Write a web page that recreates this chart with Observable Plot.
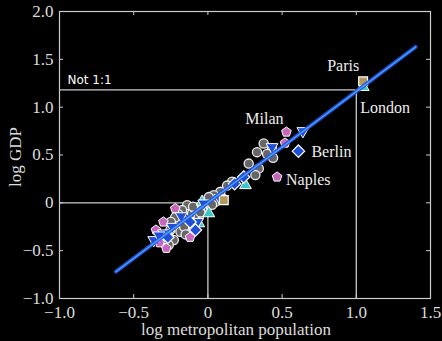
<!DOCTYPE html>
<html><head><meta charset="utf-8">
<script src="https://cdn.jsdelivr.net/npm/d3@7"></script>
<script src="https://cdn.jsdelivr.net/npm/@observablehq/plot@0.6"></script>
<style>html,body{margin:0;padding:0;background:#000;}</style>
</head><body><div id="chart"></div>
<script>
// grey circles (other cities)
const circleX = [0.376,0.432,0.331,0.399,0.439,0.275,0.343,0.32,0.163,0.129,0.084,0.039,0.006,0.05,0.028,
  -0.14,-0.174,-0.107,-0.174,-0.118,-0.062,-0.208,-0.253,-0.185,-0.129,-0.264,-0.23,-0.264,-0.039,-0.09,-0.2,
  -0.3,-0.16,-0.1,-0.22,-0.05,-0.15,-0.25];
const circleY = [0.62,0.566,0.53,0.51,0.47,0.41,0.36,0.29,0.22,0.18,0.115,0.08,0.06,0.01,-0.02,
  -0.024,-0.076,-0.11,-0.163,-0.198,-0.146,-0.215,-0.284,-0.302,-0.319,-0.354,-0.389,-0.44,-0.058,-0.06,-0.12,
  -0.38,-0.25,-0.04,-0.15,-0.1,-0.33,-0.2];
// pink pentagons
const pentX = [0.529,0.52,0.466,-0.35,-0.28,-0.325,-0.22,-0.3,-0.12];
const pentY = [0.74,0.625,0.27,-0.284,-0.475,-0.417,-0.06,-0.2,-0.36];
// blue diamonds
const diamX = [0.61,0.241,-0.084,0.18,-0.12,-0.27];
const diamY = [0.54,0.27,-0.284,0.2,-0.2,-0.36];
// blue downward triangles
const triDX = [0.64,0.432,-0.365,-0.298,-0.028,-0.18,-0.24,0.08,-0.33,-0.07];
const triDY = [0.75,0.583,-0.389,-0.319,-0.006,-0.14,-0.25,0.05,-0.34,-0.2];
// cyan upward triangles
const triUX = [1.046,0.253,-0.039,0.006,-0.062];
const triUY = [1.21,0.184,0.01,-0.11,-0.215];
// tan squares
const sqX = [1.046,0.107];
const sqY = [1.27,0.028];
// named cities
const cityNames = ["Paris","London","Milan","Berlin","Naples"];
const cityX = [1.046,1.046,0.529,0.61,0.466];
const cityY = [1.27,1.21,0.74,0.54,0.27];
// fitted line end points
const fitX = [-0.62,1.4];
const fitY = [-0.72,1.63];
// guide lines
const guideLevel = [0, 1.18];
const guideAt = [0, 1.0];
const xTicks = [-1.0,-0.5,0,0.5,1.0,1.5];
const yTicks = [-1.0,-0.5,0,0.5,1.0,1.5,2.0];

const pts = (xs, ys) => xs.map((x,i)=>({x, y: ys[i]}));
const fit = pts(fitX, fitY);
const cities = cityNames.map((n,i)=>({name:n, x:cityX[i], y:cityY[i]}));
const guides = guideLevel.map((g,i)=>({y:g, x:guideAt[i]}));

const pentagon = {draw(ctx, size){
  const r = Math.sqrt(size / (2.5*Math.sin(2*Math.PI/5)));
  for (let i=0;i<5;i++){
    const a = -Math.PI/2 + i*2*Math.PI/5;
    const px = r*Math.cos(a), py = r*Math.sin(a);
    if (i===0) ctx.moveTo(px,py); else ctx.lineTo(px,py);
  }
  ctx.closePath();
}};

const fmt = d => d === 0 ? "0" : d3.format(".1f")(d);
const serif = "Liberation Serif, Times New Roman, serif";
const labelOffsets = {Paris:{dx:-20,dy:-15,anchor:"middle"}, London:{dx:-3,dy:21,anchor:"start"},
  Milan:{dx:-22,dy:-13,anchor:"middle"}, Berlin:{dx:13,dy:1,anchor:"start"}, Naples:{dx:9,dy:3,anchor:"start"}};

const chart = Plot.plot({
  width: 442, height: 341,
  marginLeft: 59, marginRight: 12, marginTop: 11, marginBottom: 43,
  style: {background:"#000", color:"#ddd", fontFamily: serif, fontSize:"16px"},
  x: {domain:[-1,1.5], ticks: xTicks, tickFormat: fmt, label: null},
  y: {domain:[-1,2], ticks: yTicks, tickFormat: fmt, label: null},
  marks: [
    Plot.frame({stroke:"#ccc", strokeWidth:1.2}),
    Plot.axisX({ticks:xTicks, tickFormat: fmt, tickSize:0, tickPadding:7, fontSize:17, fill:"#ddd"}),
    Plot.axisY({ticks:yTicks, tickFormat: fmt, tickSize:0, tickPadding:6, fontSize:17, fill:"#ddd"}),
    Plot.tickX(xTicks, {x:d=>d, stroke:"#ccc", insetTop: 283}),
    Plot.tickX(xTicks, {x:d=>d, stroke:"#ccc", insetBottom: 283}),
    Plot.tickY(yTicks, {y:d=>d, stroke:"#ccc", insetRight: 367}),
    Plot.tickY(yTicks, {y:d=>d, stroke:"#ccc", insetLeft: 367}),
    Plot.ruleY(guides, {y:"y", x1:-1, x2:"x", stroke:"#ccc", strokeWidth:1.3}),
    Plot.ruleX(guides, {x:"x", y1:-1, y2:"y", stroke:"#ccc", strokeWidth:1.3}),
    Plot.text(["Not 1:1"], {x:-1, y:guideLevel[1], text:d=>d, textAnchor:"start", dx:8, dy:-10,
      fill:"#fff", fontFamily:"DejaVu Sans", fontSize:12}),
    Plot.dot(pts(circleX,circleY), {x:"x", y:"y", r:4.6, fill:"#666", stroke:"#eee", strokeWidth:1.3}),
    Plot.dot(pts(pentX,pentY), {x:"x", y:"y", r:4.4, symbol:pentagon, fill:"#c865bd", stroke:"#fff", strokeWidth:1}),
    Plot.dot(pts(triUX,triUY), {x:"x", y:"y", r:4.4, symbol:"triangle", fill:"#3cc8c8", stroke:"#fff", strokeWidth:1}),
    Plot.dot(pts(triDX,triDY), {x:"x", y:"y", r:4.4, symbol:"triangle", rotate:180, fill:"#1f4fd8", stroke:"#fff", strokeWidth:1}),
    Plot.dot(pts(diamX,diamY), {x:"x", y:"y", r:5.6, symbol:"diamond2", fill:"#1f4fd8", stroke:"#fff", strokeWidth:1.2}),
    Plot.dot(pts(sqX,sqY), {x:"x", y:"y", r:5, symbol:"square", fill:"#b39a5c", stroke:"#fff", strokeWidth:1.2}),
    Plot.line(fit, {x:"x", y:"y", stroke:"#1d55e0", strokeWidth:4, strokeOpacity:0.9}),
    Plot.line(fit, {x:"x", y:"y", stroke:"#5aa2ff", strokeWidth:1.2}),
    ...cities.map(c => Plot.text([c], {x:"x", y:"y", text:"name", fill:"#eee", fontSize:16, fontFamily:serif,
      dx: labelOffsets[c.name].dx, dy: labelOffsets[c.name].dy, textAnchor: labelOffsets[c.name].anchor}))
  ]
});
const svg = chart;
const wrap = document.getElementById("chart");
wrap.appendChild(svg);
const ns = "http://www.w3.org/2000/svg";
const xl = document.createElementNS(ns,"text");
xl.setAttribute("x", 236); xl.setAttribute("y", 335); xl.setAttribute("text-anchor","middle");
xl.setAttribute("fill","#ddd"); xl.setAttribute("font-family", serif); xl.setAttribute("font-size","17");
xl.textContent = "log metropolitan population";
svg.appendChild(xl);
const yl = document.createElementNS(ns,"text");
yl.setAttribute("transform","translate(21,157) rotate(-90)"); yl.setAttribute("text-anchor","middle");
yl.setAttribute("fill","#ddd"); yl.setAttribute("font-family", serif); yl.setAttribute("font-size","17");
yl.textContent = "log GDP";
svg.appendChild(yl);
</script></body></html>
